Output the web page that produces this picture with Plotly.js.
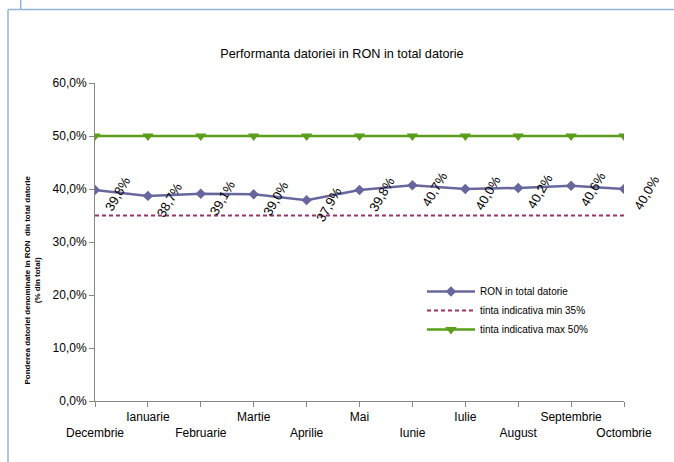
<!DOCTYPE html>
<html>
<head>
<meta charset="utf-8">
<script src="https://cdn.plot.ly/plotly-3.0.1.min.js"></script>
<style>html,body{margin:0;padding:0;background:#fff;}#chart{width:674px;height:462px;}</style>
</head>
<body>
<div id="chart"></div>
<script>
const months = ["Decembrie","Ianuarie","Februarie","Martie","Aprilie","Mai","Iunie","Iulie","August","Septembrie","Octombrie"];
const ronShare = [39.8, 38.7, 39.1, 39.0, 37.9, 39.8, 40.7, 40.0, 40.2, 40.6, 40.0];
const targetMin = [35, 35, 35, 35, 35, 35, 35, 35, 35, 35, 35];
const targetMax = [50, 50, 50, 50, 50, 50, 50, 50, 50, 50, 50];
const yTicks = [0, 10, 20, 30, 40, 50, 60];

const FONT = "Liberation Sans, Arial, sans-serif";
const fmt = v => v.toFixed(1).replace(".", ",") + "%";
const idx = months.map((m, i) => i);
const tickText = months.map((m, i) => i % 2 === 0 ? "\u00a0<br>" + m : m);

const traces = [
  {x: idx, y: ronShare, name: "RON in total datorie", mode: "lines+markers",
   line: {color: "#67679E", width: 2.5}, marker: {symbol: "diamond", size: 8, color: "#67679E"}},
  {x: idx, y: targetMin, name: "tinta indicativa min 35%", mode: "lines",
   line: {color: "#993366", width: 2, dash: "4px,3px"}},
  {x: idx, y: targetMax, name: "tinta indicativa max 50%", mode: "lines+markers",
   line: {color: "#5A9E1C", width: 2.5}, marker: {symbol: "triangle-down", size: 10, color: "#5A9E1C"}}
];

const L = 95, R = 50, T = 83, B = 61, W = 674, H = 462;
const pw = W - L - R, ph = H - T - B;
const px = X => (X - L) / pw;
const py = Y => (H - B - Y) / ph;

const annotations = ronShare.map((v, i) => ({
  x: i, y: v, xref: "x", yref: "y", text: fmt(v),
  showarrow: false, textangle: -60, xanchor: "center", yanchor: "middle",
  xshift: 22, yshift: -4, font: {family: FONT, size: 13, color: "#000"}
}));
annotations.push({
  x: px(31.5), y: py(280), xref: "paper", yref: "paper",
  text: "Ponderea datoriei denominate in RON  din total datorie<br>(% din total)",
  showarrow: false, textangle: -90, xanchor: "center", yanchor: "middle",
  font: {family: FONT, size: 8, color: "#000", weight: "bold"}
});

const lineStyle = {color: "#95B3D7", width: 1.5};
const shapes = [
  {type: "line", xref: "paper", yref: "paper", x0: px(20.7), x1: px(20.7), y0: py(0), y1: py(9.5), line: lineStyle},
  {type: "line", xref: "paper", yref: "paper", x0: px(8), x1: px(674), y0: py(9.5), y1: py(9.5), line: lineStyle},
  {type: "line", xref: "paper", yref: "paper", x0: px(8), x1: px(8), y0: py(9.5), y1: py(462), line: lineStyle}
];

const layout = {
  width: W, height: H,
  margin: {l: L, r: R, t: T, b: B, pad: 0},
  paper_bgcolor: "#fff", plot_bgcolor: "#fff",
  font: {family: FONT, size: 12, color: "#000"},
  title: {text: "Performanta datoriei in RON in total datorie", x: 342 / W, xanchor: "center",
          y: 1 - 54 / H, yanchor: "middle", font: {family: FONT, size: 12.7, color: "#000"}},
  separators: ",.",
  showlegend: true,
  legend: {x: px(422), y: py(277), xanchor: "left", yanchor: "top",
           font: {family: FONT, size: 10, color: "#000"}, bgcolor: "rgba(0,0,0,0)",
           tracegroupgap: 0, itemwidth: 48},
  xaxis: {range: [0, 10], tickvals: idx, ticktext: tickText, showgrid: false, zeroline: false,
          showline: true, linecolor: "#868686", linewidth: 1, ticks: "outside", ticklen: 5,
          tickcolor: "#868686", tickangle: 0, tickfont: {family: FONT, size: 12, color: "#000"},
          fixedrange: true},
  yaxis: {range: [0, 60], tickmode: "array", tickvals: yTicks, ticktext: yTicks.map(fmt), showgrid: false,
          zeroline: false, showline: true, linecolor: "#868686", linewidth: 1, ticks: "outside",
          ticklen: 5, tickcolor: "#868686", tickfont: {family: FONT, size: 12, color: "#000"},
          fixedrange: true},
  annotations: annotations,
  shapes: shapes
};

Plotly.newPlot("chart", traces, layout, {displayModeBar: false, staticPlot: true});
</script>
</body>
</html>
